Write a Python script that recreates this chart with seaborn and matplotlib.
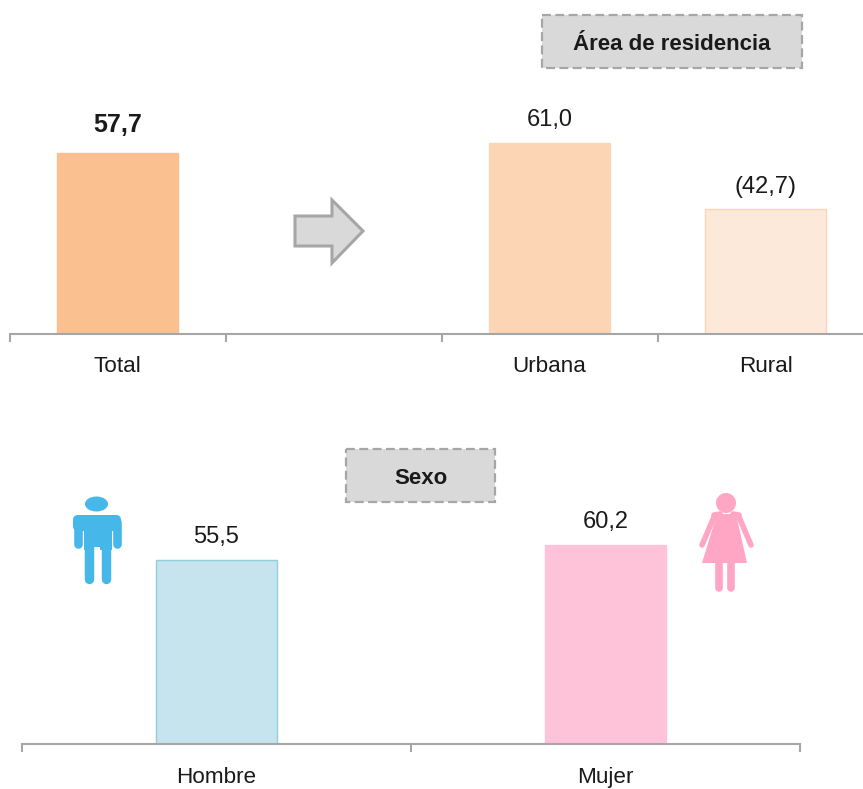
import matplotlib
matplotlib.use('Agg')
import matplotlib.pyplot as plt
from matplotlib.patches import Ellipse, FancyBboxPatch, Polygon, Rectangle
import pandas as pd
import seaborn as sns

sns.set_theme(style='white')
plt.rcParams['font.family'] = ['Liberation Sans', 'DejaVu Sans']

# top panel
top_cats = ['Total', 'Urbana', 'Rural']
top_order = ['Total', ' ', 'Urbana', 'Rural']
top_labels = ['57,7', '61,0', '(42,7)']
# Rural is labelled 42,7 but the bar in the picture is drawn shorter
top_heights = [57.7, 61.0, 39.8]
top_fill = ['#FAC090', '#FCD5B5', '#FDE9D9']
top_edge = ['#FAC090', '#FCD5B5', '#FCD5B5']

# bottom panel
sex_cats = ['Hombre', 'Mujer']
sex_labels = ['55,5', '60,2']
sex_heights = [55.5, 60.2]
sex_fill = ['#C6E4EE', '#FFC3D9']
sex_edge = ['#92CDDC', '#FFC3D9']

W, H = 863, 789
GREY = '#A6A6A6'


def px_axes(fig, left, right, base, top):
    # axes placed with pixel values from the top left corner
    return fig.add_axes([left / W, 1 - base / H, (right - left) / W, (base - top) / H])


def bars(ax, cats, order, heights, labels, fill, edge, width, ymax, pad, bold_first=False):
    df = pd.DataFrame({'cat': cats, 'val': heights})
    sns.barplot(data=df, x='cat', y='val', order=order, hue='cat', hue_order=cats,
                palette=fill, width=width, saturation=1, legend=False, ax=ax)
    for i, bar in enumerate(ax.patches):
        bar.set_edgecolor(edge[i])
        bar.set_linewidth(1)
        x = bar.get_x() + bar.get_width() / 2
        big = bold_first and i == 0
        ax.annotate(labels[i], (x, bar.get_height()), xytext=(0, 12 if big else 8.5),
                    textcoords='offset points', ha='center', va='bottom', color='#1A1A1A',
                    fontsize=18 if big else 17, fontweight='bold' if big else 'normal')
    ax.set_xlim(-0.5, len(order) - 0.5)
    ax.set_ylim(0, ymax)
    ax.set_xlabel('')
    ax.set_ylabel('')
    ax.set_yticks([])
    ax.patch.set_alpha(0)
    for s in ['top', 'left', 'right']:
        ax.spines[s].set_visible(False)
    ax.spines['bottom'].set_color(GREY)
    ax.spines['bottom'].set_linewidth(1.5)
    # ticks sit between the categories, the names go on minor ticks
    ax.set_xticks([i - 0.5 for i in range(len(order) + 1)], [''] * (len(order) + 1))
    ax.set_xticks(range(len(order)), order, minor=True)
    ax.tick_params(axis='x', which='major', length=6, width=1.5, color=GREY, bottom=True)
    ax.tick_params(axis='x', which='minor', length=0, pad=pad, labelsize=16.2, labelcolor='#1A1A1A')


fig = plt.figure(figsize=(W / 100, H / 100), dpi=100)

ax1 = px_axes(fig, 9.5, 873.5, 334, 94)
bars(ax1, top_cats, top_order, top_heights, top_labels, top_fill, top_edge, 0.56, 240 / 3.13, 16, True)

ax2 = px_axes(fig, 22, 800, 744, 504)
bars(ax2, sex_cats, sex_cats, sex_heights, sex_labels, sex_fill, sex_edge, 0.31, 240 / 3.31, 16.5)

# overlay in pixels for the boxes, the arrow and the two figures
ov = fig.add_axes([0, 0, 1, 1], zorder=5)
ov.set_xlim(0, W)
ov.set_ylim(H, 0)
ov.axis('off')
ov.patch.set_alpha(0)

for x0, x1, y0, y1, txt in [(542, 802, 15, 68, 'Área de residencia'), (346, 495, 449, 502, 'Sexo')]:
    ov.add_patch(Rectangle((x0, y0), x1 - x0, y1 - y0, facecolor='#D9D9D9', edgecolor=GREY,
                           linewidth=1.6, linestyle=(0, (4, 2))))
    ov.text((x0 + x1) / 2, (y0 + y1) / 2 + 2.5, txt, ha='center', va='center', fontsize=16,
            fontweight='bold', color='#1A1A1A')

ov.add_patch(Polygon([(295, 216), (332, 216), (332, 200), (363, 231), (332, 263), (332, 246), (295, 246)],
                     closed=True, facecolor='#D9D9D9', edgecolor=GREY, linewidth=2.2))

# man
BLUE = '#45B7E8'
ov.add_patch(Ellipse((96.5, 504), 23, 15, color=BLUE, lw=0))
ov.add_patch(FancyBboxPatch((78, 520), 38, 6, boxstyle='round,pad=5', color=BLUE, lw=0))
ov.add_patch(Rectangle((84, 520), 28, 30, color=BLUE, lw=0))
for x, y0, y1 in [(77.5, 522, 544), (117, 522, 544), (88.5, 545, 579), (105.5, 545, 579)]:
    ov.plot([x, x], [y0, y1], color=BLUE, lw=6.8 if x > 80 and x < 110 else 6.2, solid_capstyle='round')
ov.add_patch(Rectangle((93, 547), 7, 40, color='white', lw=0))

# woman
PINK = '#FFA6C4'
ov.add_patch(Ellipse((726, 503), 20, 20, color=PINK, lw=0))
ov.add_patch(Polygon([(717, 514), (736, 514), (747, 563), (702, 563)], closed=True, color=PINK, lw=0))
for xs, ys in [([714, 702], [517, 545]), ([739, 751], [517, 545])]:
    ov.plot(xs, ys, color=PINK, lw=4, solid_capstyle='round')
ov.plot([714, 720], [515, 514], color=PINK, lw=4, solid_capstyle='round')
ov.plot([739, 733], [515, 514], color=PINK, lw=4, solid_capstyle='round')
for x in [719, 731]:
    ov.plot([x, x], [560, 588], color=PINK, lw=5.5, solid_capstyle='round')

fig.savefig('out.png', dpi=100, facecolor='white')
